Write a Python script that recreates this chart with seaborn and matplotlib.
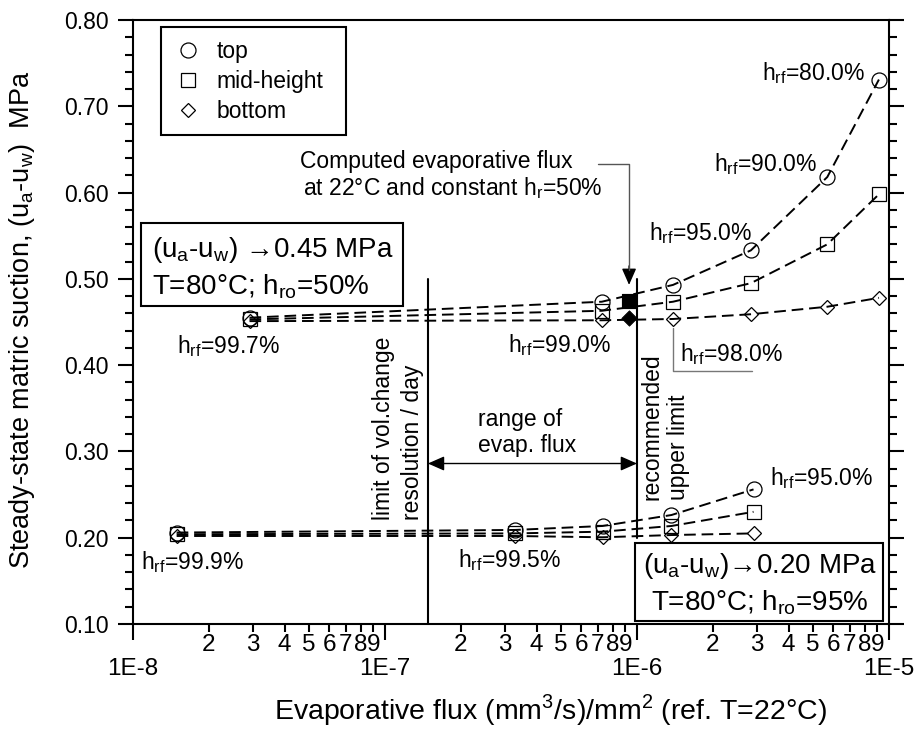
import numpy as np
import matplotlib
matplotlib.use("Agg")
import matplotlib.pyplot as plt
from matplotlib.lines import Line2D
from matplotlib.patches import Rectangle
from matplotlib.ticker import LogLocator, FuncFormatter, MultipleLocator, FormatStrFormatter
from matplotlib import font_manager
import seaborn as sns

# ---- data: steady-state suction vs evaporative flux ----
# upper set: (ua-uw) -> 0.45 MPa, T=80C, hro=50%
flux_hi = [2.9e-8, 7.25e-7, 1.39e-6, 2.83e-6, 5.69e-6, 9.12e-6]
top_hi = [0.455, 0.4735, 0.493, 0.533, 0.618, 0.731]
mid_hi = [0.453, 0.463, 0.4735, 0.495, 0.540, 0.598]
bot_hi = [0.451, 0.452, 0.4535, 0.459, 0.4677, 0.478]

# lower set: (ua-uw) -> 0.20 MPa, T=80C, hro=95%
flux_lo = [1.49e-8, 3.28e-7, 7.3e-7, 1.37e-6, 2.9e-6]
top_lo = [0.206, 0.209, 0.2136, 0.2263, 0.256]
mid_lo = [0.204, 0.205, 0.207, 0.2136, 0.230]
bot_lo = [0.202, 0.202, 0.2005, 0.2031, 0.205]

# computed flux at 22C and constant hr=50%
flux_22 = [9.3e-7]
mid_22 = [0.474]
bot_22 = [0.455]

# final relative humidity labels
rf_labels = ["80.0%", "90.0%", "95.0%", "99.0%", "98.0%", "99.7%",
             "99.9%", "99.5%", "95.0%"]

limit_flux = 1.48e-7      # limit of volume-change resolution per day
upper_flux = 1.0e-6       # recommended upper limit
x_min, x_max = 1e-8, 1e-5

# ---- style ----
sns.set_theme(style="ticks")
plt.rcParams["font.family"] = ["Liberation Sans", "DejaVu Sans"]
plt.rcParams["axes.linewidth"] = 1.5
plt.rcParams["text.color"] = "black"
plt.rcParams["axes.labelcolor"] = "black"
plt.rcParams["xtick.color"] = "black"
plt.rcParams["ytick.color"] = "black"
names = {f.name for f in font_manager.fontManager.ttflist}
narrow = "Liberation Sans Narrow" if "Liberation Sans Narrow" in names else "Liberation Sans"

fig = plt.figure(figsize=(9.17, 7.33), dpi=100)
ax = fig.add_axes([133 / 917, 1 - 624 / 733, 756 / 917, 604 / 733])
ax.set_xscale("log")

dash = (0, (6, 3))
line_kw = dict(color="black", lw=1.4, linestyle=dash, markerfacecolor="none",
               markeredgecolor="black", markeredgewidth=0.9,
               estimator=None, sort=False, legend=False)
for fx, ys in ((flux_hi, (top_hi, mid_hi, bot_hi)), (flux_lo, (top_lo, mid_lo, bot_lo))):
    sns.lineplot(x=fx, y=ys[0], ax=ax, marker="o", markersize=10.8, **line_kw)
    sns.lineplot(x=fx, y=ys[1], ax=ax, marker="s", markersize=10.3, **line_kw)
    sns.lineplot(x=fx, y=ys[2], ax=ax, marker="D", markersize=7.6, **line_kw)

sns.scatterplot(x=flux_22, y=mid_22, ax=ax, marker="s", s=10.5 ** 2,
                color="black", edgecolor="black", zorder=6, legend=False)
sns.scatterplot(x=flux_22, y=bot_22, ax=ax, marker="D", s=7.8 ** 2,
                color="black", edgecolor="black", zorder=6, legend=False)


# ---- axes ----
def major_fmt(v, p):
    return f"1E{int(round(np.log10(v)))}"


def minor_fmt(v, p):
    if v < x_min or v > x_max:
        return ""
    return f"{int(round(v / 10 ** np.floor(np.log10(v) + 1e-9)))}"


ax.set_xlim(x_min, x_max)
ax.set_ylim(0.1, 0.8)
ax.xaxis.set_major_locator(LogLocator(base=10, numticks=10))
ax.xaxis.set_major_formatter(FuncFormatter(major_fmt))
ax.xaxis.set_minor_locator(LogLocator(base=10, subs=np.arange(2, 10), numticks=40))
ax.xaxis.set_minor_formatter(FuncFormatter(minor_fmt))
ax.yaxis.set_major_locator(MultipleLocator(0.1))
ax.yaxis.set_major_formatter(FormatStrFormatter("%.2f"))
ax.yaxis.set_minor_locator(MultipleLocator(0.02))

ax.tick_params(axis="both", which="both", direction="out", width=1.5,
               top=False, right=True, labelright=False)
ax.tick_params(axis="x", which="major", length=11.5, pad=13, labelsize=17.5,
               labelfontfamily=narrow)
ax.tick_params(axis="x", which="minor", length=5.5, pad=1.5, labelsize=17.5,
               labelfontfamily=narrow)
ax.tick_params(axis="y", which="major", length=10.5, pad=7, labelsize=16.5)
ax.tick_params(axis="y", which="minor", length=5.8)
for s in ax.spines.values():
    s.set_linewidth(1.5)
    s.set_color("black")

ax.set_xlabel("Evaporative flux (mm$^\\mathregular{3}$/s)/mm$^\\mathregular{2}$ (ref. T=22°C)",
              fontsize=20.5)
ax.xaxis.set_label_coords(0.552, -0.113)
ax.set_ylabel("Steady-state matric suction, (u$_\\mathregular{a}$-u$_\\mathregular{w}$)  MPa",
              fontsize=19.5)
ax.yaxis.set_label_coords(-0.127, 0.503)

# ---- legend ----
handles = [
    Line2D([], [], ls="none", marker="o", ms=10.8, mfc="none", mec="black", mew=0.9),
    Line2D([], [], ls="none", marker="s", ms=10.3, mfc="none", mec="black", mew=0.9),
    Line2D([], [], ls="none", marker="D", ms=7.6, mfc="none", mec="black", mew=0.9),
]
leg = ax.legend(handles, ["top", "mid-height", "bottom"], loc="upper left",
                bbox_to_anchor=(0.0366, 0.988 - 0.178, 0.245, 0.178), mode="expand",
                borderaxespad=0, fontsize=16.5,
                frameon=True, fancybox=False, framealpha=1, edgecolor="black",
                handlelength=1.3, handletextpad=0.6, borderpad=0.55,
                labelspacing=0.3)
leg.get_frame().set_linewidth(1.5)

# ---- reference lines and arrows ----
ax.plot([limit_flux, limit_flux], [0.1, 0.5], color="black", lw=1.5, zorder=3)
ax.plot([upper_flux, upper_flux], [0.2, 0.5], color="black", lw=1.5, zorder=3)
ax.annotate("", xy=(upper_flux, 0.286), xytext=(limit_flux, 0.286),
            arrowprops=dict(arrowstyle="<|-|>,head_length=0.5,head_width=0.22",
                            color="black", lw=1, shrinkA=0, shrinkB=0,
                            mutation_scale=20))
ax.text(2.34e-7, 0.3295, "range of", fontsize=16.5, ha="left", va="baseline")
ax.text(2.34e-7, 0.2993, "evap. flux", fontsize=16.5, ha="left", va="baseline")

ax.text(9.9e-8, 0.2205, "limit of vol.change", fontsize=16.5, rotation=90,
        ha="center", va="bottom")
ax.text(1.29e-7, 0.2205, "resolution / day", fontsize=16.5, rotation=90,
        ha="center", va="bottom")
ax.text(1.148e-6, 0.2437, "recommended", fontsize=16.5, rotation=90,
        ha="center", va="bottom")
ax.text(1.456e-6, 0.2437, "upper limit", fontsize=16.5, rotation=90,
        ha="center", va="bottom")

# computed-flux callout
ax.text(4.6e-8, 0.6285, "Computed evaporative flux", fontsize=16.5,
        ha="left", va="baseline")
ax.text(4.73e-8, 0.597, "at 22°C and constant h$_\\mathregular{r}$=50%", fontsize=16.5,
        ha="left", va="baseline")
ax.plot([7.0e-7, flux_22[0], flux_22[0]], [0.6327, 0.6327, 0.51],
        color="#555555", lw=1, zorder=4)
ax.annotate("", xy=(flux_22[0], 0.493), xytext=(flux_22[0], 0.515),
            arrowprops=dict(arrowstyle="-|>,head_length=0.5,head_width=0.22",
                            color="black", lw=1, shrinkA=0, shrinkB=0,
                            mutation_scale=20))

# humidity labels
rf_pos = [(3.13e-6, 0.7304), (2.02e-6, 0.625), (1.12e-6, 0.545), (3.08e-7, 0.4152),
          (1.48e-6, 0.4048), (1.50e-8, 0.414), (1.08e-8, 0.1637), (1.95e-7, 0.166),
          (3.37e-6, 0.261)]
for (px, py), lab in zip(rf_pos, rf_labels):
    ax.text(px, py, "h$_\\mathregular{rf}$=" + lab, fontsize=16.5, ha="left", va="baseline")
ax.plot([flux_hi[2], flux_hi[2], 2.85e-6], [0.443, 0.3935, 0.3935],
        color="#777777", lw=1, zorder=4)

# condition boxes
ax.add_patch(Rectangle((0.0106, 0.5265), 0.3464, 0.1375, transform=ax.transAxes,
                       facecolor="white", edgecolor="black", lw=1.5, zorder=7))
ax.text(0.0247, 0.607, "(u$_\\mathregular{a}$-u$_\\mathregular{w}$) \u21920.45 MPa",
        transform=ax.transAxes, fontsize=20, ha="left", va="baseline", zorder=8)
ax.text(0.0247, 0.5464, "T=80°C; h$_\\mathregular{ro}$=50%",
        transform=ax.transAxes, fontsize=20, ha="left", va="baseline", zorder=8)

ax.add_patch(Rectangle((0.664, 0.005), 0.328, 0.129, transform=ax.transAxes,
                       facecolor="white", edgecolor="black", lw=1.5, zorder=7))
ax.text(0.829, 0.0839, "(u$_\\mathregular{a}$-u$_\\mathregular{w}$)\u21920.20 MPa",
        transform=ax.transAxes, fontsize=20, ha="center", va="baseline", zorder=8)
ax.text(0.829, 0.0232, "T=80°C; h$_\\mathregular{ro}$=95%",
        transform=ax.transAxes, fontsize=20, ha="center", va="baseline", zorder=8)

fig.savefig("out.png", dpi=100)
